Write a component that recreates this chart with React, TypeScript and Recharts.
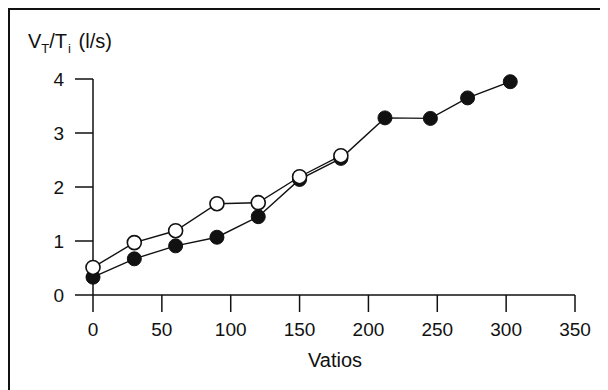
import React from "react";
import { LineChart, Line, XAxis, YAxis } from "recharts";

// Vatios for each measured point
const wattsClosed = [0, 30, 60, 90, 120, 150, 180, 212, 245, 272, 303];
const flowClosed = [0.33, 0.67, 0.91, 1.07, 1.45, 2.14, 2.53, 3.28, 3.27, 3.65, 3.95];

const wattsOpen = [0, 30, 60, 90, 120, 150, 180];
const flowOpen = [0.51, 0.97, 1.19, 1.69, 1.71, 2.19, 2.58];

const xTicks = [0, 50, 100, 150, 200, 250, 300, 350];
const yTicks = [0, 1, 2, 3, 4];

const closedData = wattsClosed.map((x, i) => ({ x, y: flowClosed[i] }));
const openData = wattsOpen.map((x, i) => ({ x, y: flowOpen[i] }));

const FONT = "'Liberation Sans', Arial, Helvetica, sans-serif";
const INK = "#111";
const FS = 19;

function XLabel({ viewBox }: any) {
  return (
    <text
      x={viewBox.x + viewBox.width / 2 + 1}
      y={viewBox.y + 72}
      textAnchor="middle"
      fontSize={20}
      fontFamily={FONT}
      fill={INK}
    >
      Vatios
    </text>
  );
}

function YLabel({ viewBox }: any) {
  return (
    <text x={viewBox.x - 5} y={viewBox.y - 31} fontSize={20} fontFamily={FONT} fill={INK}>
      V
      <tspan fontSize={13} dy={5}>T</tspan>
      <tspan dy={-5}>/T</tspan>
      <tspan fontSize={13} dy={5} dx={1}>i</tspan>
      <tspan dy={-5} dx={2}> (l/s)</tspan>
    </text>
  );
}

export default function App() {
  return (
    <div style={{ position: "relative", width: 600, height: 382, fontFamily: FONT }}>
      <LineChart width={600} height={382} margin={{ top: 71, right: 33, bottom: 15, left: 25 }}>
        <XAxis
          type="number"
          dataKey="x"
          domain={[0, 350]}
          ticks={xTicks}
          height={80}
          tickSize={17}
          tickMargin={11}
          axisLine={{ stroke: INK, strokeWidth: 1.5 }}
          tickLine={{ stroke: INK, strokeWidth: 1.5 }}
          tick={{ fill: INK, fontSize: FS, fontFamily: FONT }}
          label={<XLabel />}
        />
        <YAxis
          type="number"
          dataKey="y"
          domain={[0, 4]}
          ticks={yTicks}
          width={60}
          tickSize={18}
          tickMargin={11}
          axisLine={{ stroke: INK, strokeWidth: 1.5 }}
          tickLine={{ stroke: INK, strokeWidth: 1.5 }}
          tick={{ fill: INK, fontSize: FS, fontFamily: FONT }}
          label={<YLabel />}
        />
        <Line
          data={closedData}
          dataKey="y"
          stroke={INK}
          strokeWidth={1.4}
          dot={{ r: 7, fill: INK, stroke: INK, strokeWidth: 1 }}
          activeDot={false}
          isAnimationActive={false}
        />
        <Line
          data={openData}
          dataKey="y"
          stroke={INK}
          strokeWidth={1.4}
          dot={{ r: 7, fill: "#fff", stroke: INK, strokeWidth: 1.6 }}
          activeDot={false}
          isAnimationActive={false}
        />
      </LineChart>
      <div
        style={{
          position: "absolute",
          top: 0,
          left: 0,
          right: 0,
          bottom: 0,
          borderTop: "2px solid #111",
          borderLeft: "2px solid #111",
          pointerEvents: "none",
        }}
      />
    </div>
  );
}
